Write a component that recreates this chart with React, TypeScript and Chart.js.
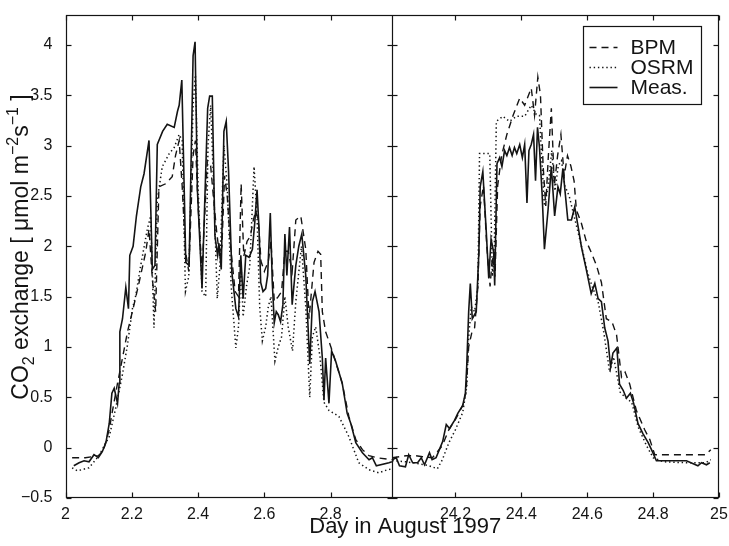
import { useEffect, useRef } from "react";
import { Chart, registerables } from "chart.js";

Chart.register(...registerables);

// ---------- Data ----------
const measLeftDays = [2.025, 2.041, 2.056, 2.071, 2.086, 2.099, 2.111, 2.122, 2.132, 2.14, 2.147, 2.157, 2.162, 2.164, 2.172, 2.182, 2.19, 2.194, 2.204, 2.214, 2.227, 2.237, 2.252, 2.262, 2.27, 2.277, 2.293, 2.307, 2.328, 2.338, 2.343, 2.351, 2.363, 2.373, 2.385, 2.391, 2.398, 2.412, 2.429, 2.435, 2.443, 2.451, 2.459, 2.463, 2.47, 2.478, 2.485, 2.492, 2.502, 2.514, 2.522, 2.529, 2.536, 2.544, 2.554, 2.564, 2.571, 2.578, 2.584, 2.589, 2.596, 2.604, 2.61, 2.618, 2.624, 2.63, 2.636, 2.642, 2.649, 2.656, 2.662, 2.668, 2.676, 2.684, 2.695, 2.704, 2.713, 2.725, 2.737, 2.745, 2.753, 2.765, 2.775, 2.78, 2.785, 2.795, 2.803, 2.815, 2.835, 2.85, 2.861, 2.876, 2.896, 2.916, 2.926, 2.938, 2.976, 2.985];
const measLeftVals = [-0.18, -0.15, -0.13, -0.14, -0.07, -0.1, -0.04, 0.05, 0.24, 0.54, 0.59, 0.44, 0.64, 1.15, 1.28, 1.59, 1.38, 1.91, 2.0, 2.3, 2.59, 2.72, 3.05, 1.77, 1.81, 3.01, 3.14, 3.21, 3.18, 3.34, 3.4, 3.65, 1.84, 1.81, 3.89, 4.03, 2.56, 1.58, 3.37, 3.49, 3.49, 2.1, 1.91, 2.03, 1.77, 3.14, 3.24, 2.75, 1.74, 1.38, 1.3, 1.91, 1.48, 1.91, 1.89, 1.97, 2.23, 2.56, 2.17, 1.64, 1.55, 1.58, 1.71, 2.33, 1.64, 1.24, 1.35, 1.32, 1.25, 1.42, 2.12, 1.71, 2.19, 1.42, 1.81, 2.0, 2.12, 1.71, 0.83, 1.45, 1.55, 1.35, 0.89, 0.47, 0.89, 0.44, 0.96, 0.86, 0.64, 0.34, 0.24, 0.05, -0.05, -0.12, -0.1, -0.18, -0.15, -0.14];

const bpmLeftDays = [2.02, 2.06, 2.08, 2.1, 2.115, 2.132, 2.142, 2.157, 2.172, 2.187, 2.204, 2.222, 2.242, 2.252, 2.262, 2.272, 2.282, 2.302, 2.322, 2.332, 2.343, 2.352, 2.362, 2.372, 2.385, 2.392, 2.4, 2.412, 2.428, 2.438, 2.446, 2.456, 2.465, 2.472, 2.48, 2.488, 2.498, 2.512, 2.522, 2.53, 2.538, 2.548, 2.558, 2.566, 2.574, 2.582, 2.59, 2.6, 2.612, 2.62, 2.63, 2.642, 2.652, 2.662, 2.672, 2.684, 2.695, 2.71, 2.725, 2.735, 2.75, 2.762, 2.77, 2.775, 2.785, 2.805, 2.835, 2.855, 2.876, 2.896, 2.916, 2.94, 2.985];
const bpmLeftVals = [-0.1, -0.1, -0.09, -0.08, -0.02, 0.18, 0.37, 0.64, 0.89, 1.15, 1.38, 1.64, 1.94, 2.17, 1.68, 1.35, 2.59, 2.62, 2.69, 2.9, 3.05, 2.6, 1.95, 1.75, 2.9, 3.05, 2.4, 1.75, 2.85, 2.8, 2.5, 2.15, 1.9, 2.0, 2.7, 2.5, 2.0, 1.55, 1.5, 2.62, 1.9, 2.05, 2.1, 2.25, 2.35, 2.25, 1.85, 1.75, 1.85, 2.05, 1.45, 1.5, 1.55, 1.95, 1.95, 1.75, 2.26, 2.3, 1.97, 1.28, 1.84, 1.95, 1.92, 1.35, 1.15, 0.96, 0.64, 0.31, 0.08, -0.02, -0.08, -0.1, -0.12];

const osrmLeftDays = [2.02, 2.036, 2.071, 2.101, 2.132, 2.152, 2.172, 2.187, 2.202, 2.212, 2.227, 2.247, 2.257, 2.267, 2.277, 2.292, 2.313, 2.328, 2.343, 2.352, 2.362, 2.372, 2.385, 2.392, 2.4, 2.412, 2.423, 2.43, 2.438, 2.446, 2.458, 2.466, 2.478, 2.488, 2.5, 2.514, 2.522, 2.53, 2.536, 2.546, 2.556, 2.569, 2.578, 2.586, 2.594, 2.604, 2.612, 2.62, 2.632, 2.642, 2.652, 2.662, 2.672, 2.685, 2.695, 2.712, 2.725, 2.737, 2.745, 2.755, 2.768, 2.78, 2.795, 2.825, 2.855, 2.885, 2.916, 2.946, 2.971, 2.985];
const osrmLeftVals = [-0.2, -0.23, -0.2, -0.08, 0.11, 0.4, 0.73, 1.02, 1.38, 1.51, 1.81, 2.17, 2.3, 1.19, 2.46, 2.79, 2.92, 2.98, 3.11, 3.05, 1.55, 1.7, 3.4, 3.7, 2.6, 1.55, 1.5, 3.0, 3.4, 2.7, 1.48, 1.8, 3.0, 2.6, 1.6, 0.99, 1.2, 1.8, 1.3, 1.6, 1.8, 2.79, 2.3, 1.4, 1.06, 1.2, 1.4, 1.5, 0.86, 1.0, 1.1, 1.5, 1.2, 0.96, 1.45, 2.0, 1.4, 0.5, 1.1, 1.2, 0.9, 0.45, 0.37, 0.31, 0.11, -0.15, -0.22, -0.25, -0.22, -0.21];

const measRightDays = [24.008, 24.02, 24.03, 24.048, 24.058, 24.07, 24.085, 24.096, 24.106, 24.121, 24.129, 24.141, 24.151, 24.161, 24.172, 24.182, 24.197, 24.207, 24.222, 24.23, 24.234, 24.24, 24.245, 24.251, 24.263, 24.271, 24.275, 24.283, 24.293, 24.301, 24.308, 24.316, 24.319, 24.326, 24.334, 24.341, 24.349, 24.356, 24.364, 24.372, 24.379, 24.386, 24.395, 24.403, 24.41, 24.417, 24.423, 24.43, 24.437, 24.443, 24.449, 24.455, 24.463, 24.47, 24.481, 24.491, 24.501, 24.511, 24.518, 24.526, 24.541, 24.552, 24.562, 24.572, 24.582, 24.597, 24.612, 24.623, 24.633, 24.643, 24.653, 24.663, 24.671, 24.678, 24.69, 24.698, 24.709, 24.719, 24.731, 24.741, 24.754, 24.769, 24.785, 24.795, 24.81, 24.86, 24.901, 24.936, 24.947, 24.962, 24.972];
const measRightVals = [-0.12, -0.1, -0.18, -0.19, -0.07, -0.15, -0.15, -0.1, -0.17, -0.05, -0.12, -0.1, -0.02, 0.06, 0.23, 0.19, 0.27, 0.34, 0.42, 0.54, 0.8, 1.35, 1.63, 1.28, 1.35, 1.94, 2.59, 2.74, 2.17, 1.68, 2.07, 1.94, 1.61, 2.82, 2.88, 2.79, 2.95, 2.9, 2.98, 2.9, 2.98, 2.92, 3.01, 2.88, 3.01, 2.43, 2.95, 3.01, 3.11, 2.65, 3.18, 2.98, 2.52, 1.97, 2.36, 2.79, 2.3, 2.59, 2.52, 2.77, 2.26, 2.26, 2.39, 2.2, 2.0, 1.77, 1.53, 1.63, 1.48, 1.45, 1.19, 1.06, 0.8, 0.94, 0.99, 0.63, 0.57, 0.49, 0.54, 0.44, 0.24, 0.14, 0.05, -0.02, -0.13, -0.13, -0.13, -0.18, -0.15, -0.17, -0.15];

const bpmRightDays = [24.008, 24.05, 24.08, 24.1, 24.13, 24.16, 24.18, 24.2, 24.222, 24.232, 24.24, 24.25, 24.258, 24.268, 24.275, 24.285, 24.295, 24.305, 24.312, 24.32, 24.328, 24.34, 24.356, 24.375, 24.395, 24.41, 24.43, 24.44, 24.45, 24.458, 24.466, 24.474, 24.482, 24.491, 24.5, 24.51, 24.52, 24.53, 24.54, 24.55, 24.56, 24.567, 24.582, 24.597, 24.612, 24.628, 24.643, 24.658, 24.675, 24.689, 24.704, 24.715, 24.729, 24.749, 24.774, 24.79, 24.805, 24.9, 24.96, 24.975];
const bpmRightVals = [-0.1, -0.08, -0.08, -0.09, -0.1, 0.02, 0.18, 0.28, 0.42, 0.55, 1.0, 1.15, 1.19, 1.6, 2.4, 2.6, 2.0, 1.6, 1.9, 1.7, 2.6, 2.9, 3.11, 3.3, 3.47, 3.4, 3.57, 3.3, 3.68, 3.5, 2.8, 2.4, 2.9, 3.37, 2.6, 2.9, 3.11, 2.7, 2.9, 2.8, 2.65, 2.36, 2.23, 2.05, 1.94, 1.81, 1.64, 1.28, 1.25, 1.12, 0.7, 0.75, 0.63, 0.37, 0.18, 0.08, -0.07, -0.07, -0.07, -0.02];

const osrmRightDays = [24.008, 24.05, 24.09, 24.12, 24.145, 24.16, 24.18, 24.2, 24.222, 24.234, 24.24, 24.248, 24.258, 24.268, 24.273, 24.29, 24.304, 24.312, 24.318, 24.324, 24.344, 24.364, 24.385, 24.41, 24.43, 24.445, 24.455, 24.463, 24.47, 24.482, 24.492, 24.502, 24.512, 24.522, 24.532, 24.545, 24.56, 24.575, 24.59, 24.6, 24.615, 24.633, 24.65, 24.668, 24.68, 24.7, 24.715, 24.735, 24.755, 24.78, 24.8, 24.83, 24.9, 24.96, 24.975];
const osrmRightVals = [-0.13, -0.14, -0.16, -0.18, -0.21, -0.12, 0.05, 0.18, 0.35, 0.6, 1.1, 1.4, 1.35, 1.6, 2.92, 2.92, 2.92, 1.7, 2.0, 3.24, 3.29, 3.24, 3.29, 3.29, 3.4, 3.31, 3.3, 2.8, 2.4, 2.6, 2.95, 2.55, 2.8, 2.85, 2.6, 2.5, 2.3, 2.1, 1.9, 1.75, 1.6, 1.45, 1.15, 0.75, 0.9, 0.55, 0.5, 0.45, 0.2, 0.02, -0.1, -0.14, -0.15, -0.15, -0.12];

const seriesNames = ["BPM", "OSRM", "Meas."];
const leftTicks = [2, 2.2, 2.4, 2.6, 2.8];
const leftTickLabels = ["2", "2.2", "2.4", "2.6", "2.8"];
const rightTicks = [24.2, 24.4, 24.6, 24.8, 25];
const rightTickLabels = ["24.2", "24.4", "24.6", "24.8", "25"];
const yTicks = [-0.5, 0, 0.5, 1, 1.5, 2, 2.5, 3, 3.5, 4];
const yTickLabels = ["\u22120.5", "0", "0.5", "1", "1.5", "2", "2.5", "3", "3.5", "4"];
const xTitle = "Day in August 1997";
const yTitleParts = [
  { t: "CO", k: "n" },
  { t: "2", k: "sub" },
  { t: " exchange [ \u03bcmol m", k: "n" },
  { t: "\u22122", k: "sup" },
  { t: "s", k: "n" },
  { t: "\u22121", k: "sup" },
  { t: " ]", k: "n" },
];

const FONT = '"Liberation Sans", Arial, Helvetica, sans-serif';
const INK = "#141414";
const DASH = [7, 5];
const DOT = [1.4, 2.8];

const styles: Record<string, { dash: number[]; width: number }> = {
  BPM: { dash: DASH, width: 1.4 },
  OSRM: { dash: DOT, width: 1.5 },
  "Meas.": { dash: [], width: 1.6 },
};

function mk(name: string, days: number[], vals: number[], axis: string) {
  return {
    label: name,
    data: days.map((d, i) => ({ x: d, y: vals[i] })),
    xAxisID: axis,
    yAxisID: "y",
    showLine: true,
    pointRadius: 0,
    pointHoverRadius: 0,
    borderColor: INK,
    backgroundColor: INK,
    borderWidth: styles[name].width,
    borderDash: styles[name].dash,
    fill: false,
    tension: 0,
  };
}

const framePlugin = {
  id: "frameAndText",
  afterDraw(chart: any) {
    const { ctx, chartArea: a, scales } = chart;
    const xL = scales.xL;
    const xR = scales.xR;
    const y = scales.y;
    const TL = 5;
    ctx.save();
    ctx.strokeStyle = INK;
    ctx.lineWidth = 1.2;
    ctx.setLineDash([]);
    const L = Math.round(a.left) + 0.5;
    const R = Math.round(a.right) - 0.5;
    const T = Math.round(a.top) + 0.5;
    const B = Math.round(a.bottom) - 0.5;
    const D = Math.round(xL.right) + 0.5;
    const line = (x1: number, y1: number, x2: number, y2: number) => {
      ctx.beginPath();
      ctx.moveTo(x1, y1);
      ctx.lineTo(x2, y2);
      ctx.stroke();
    };
    ctx.strokeRect(L, T, R - L, B - T);
    line(D, T, D, B);
    for (const v of yTicks) {
      const py = Math.round(y.getPixelForValue(v)) + 0.5;
      line(L, py, L + TL, py);
      line(D - TL, py, D + TL, py);
      line(R - TL, py, R, py);
    }
    for (const v of leftTicks) {
      const px = Math.round(xL.getPixelForValue(v)) + 0.5;
      line(px, T, px, T + TL);
      line(px, B - TL, px, B);
    }
    for (const v of rightTicks) {
      const px = Math.round(xR.getPixelForValue(v)) + 0.5;
      line(px, T, px, T + TL);
      line(px, B - TL, px, B);
    }

    // legend
    const bx = Math.round(a.right - 136) + 0.5;
    const by = Math.round(a.top + 11) + 0.5;
    const bw = 118;
    const bh = 78;
    ctx.fillStyle = "#fff";
    ctx.fillRect(bx, by, bw, bh);
    ctx.strokeRect(bx, by, bw, bh);
    ctx.font = `21px ${FONT}`;
    ctx.textBaseline = "middle";
    ctx.textAlign = "left";
    seriesNames.forEach((name, i) => {
      const cy = by + 21 + i * 20;
      ctx.save();
      ctx.lineWidth = styles[name].width;
      ctx.setLineDash(styles[name].dash);
      line(bx + 6, cy, bx + 34, cy);
      ctx.restore();
      ctx.fillStyle = INK;
      ctx.fillText(name, bx + 47, cy + 1);
    });

    // x title
    ctx.fillStyle = INK;
    ctx.font = `22px ${FONT}`;
    ctx.textAlign = "center";
    ctx.textBaseline = "middle";
    ctx.fillText(xTitle, (a.left + a.right) / 2 + 13, 527);

    // y title (rotated, with sub/superscripts)
    const big = `23px ${FONT}`;
    const small = `16px ${FONT}`;
    let total = 0;
    const widths = yTitleParts.map((p) => {
      ctx.font = p.k === "n" ? big : small;
      const w = ctx.measureText(p.t).width;
      total += w;
      return w;
    });
    ctx.save();
    ctx.translate(28, 247);
    ctx.rotate(-Math.PI / 2);
    ctx.textAlign = "left";
    ctx.textBaseline = "alphabetic";
    let cx = -total / 2;
    yTitleParts.forEach((p, i) => {
      ctx.font = p.k === "n" ? big : small;
      const off = p.k === "sub" ? 6 : p.k === "sup" ? -10 : 0;
      ctx.fillText(p.t, cx, off);
      cx += widths[i];
    });
    ctx.restore();
    ctx.restore();
  },
};

export default function App() {
  const ref = useRef<HTMLCanvasElement | null>(null);
  useEffect(() => {
    if (!ref.current) return;
    const tickFont = { family: FONT, size: 16 };
    const chart = new Chart(ref.current, {
      type: "scatter",
      data: {
        datasets: [
          mk("BPM", bpmLeftDays, bpmLeftVals, "xL"),
          mk("OSRM", osrmLeftDays, osrmLeftVals, "xL"),
          mk("Meas.", measLeftDays, measLeftVals, "xL"),
          mk("BPM", bpmRightDays, bpmRightVals, "xR"),
          mk("OSRM", osrmRightDays, osrmRightVals, "xR"),
          mk("Meas.", measRightDays, measRightVals, "xR"),
        ] as any,
      },
      options: {
        animation: false,
        responsive: false,
        events: [],
        layout: { padding: { top: 9, right: 10, left: 0, bottom: 0 } },
        plugins: { legend: { display: false }, tooltip: { enabled: false }, title: { display: false } },
        scales: {
          xL: {
            type: "linear",
            position: "bottom",
            stack: "x",
            stackWeight: 1,
            min: 2,
            max: 2.986,
            grid: { display: false },
            border: { display: false },
            ticks: {
              font: tickFont,
              color: INK,
              padding: -1,
              maxRotation: 0,
              autoSkip: false,
              callback: (v: any) => leftTickLabels[leftTicks.indexOf(Number(v))] ?? "",
            },
            afterBuildTicks: (s: any) => {
              s.ticks = leftTicks.map((v) => ({ value: v }));
            },
            afterFit: (s: any) => {
              s.height = 48;
            },
          },
          xR: {
            type: "linear",
            position: "bottom",
            stack: "x",
            stackWeight: 1,
            min: 24.008,
            max: 25,
            grid: { display: false },
            border: { display: false },
            ticks: {
              font: tickFont,
              color: INK,
              padding: -1,
              maxRotation: 0,
              autoSkip: false,
              callback: (v: any) => rightTickLabels[rightTicks.indexOf(Number(v))] ?? "",
            },
            afterBuildTicks: (s: any) => {
              s.ticks = rightTicks.map((v) => ({ value: v }));
            },
            afterFit: (s: any) => {
              s.height = 48;
            },
          },
          y: {
            type: "linear",
            position: "left",
            min: -0.5,
            max: 4.3,
            grid: { display: false },
            border: { display: false },
            ticks: {
              font: tickFont,
              color: INK,
              padding: 5,
              autoSkip: false,
              callback: (v: any) => yTickLabels[yTicks.indexOf(Number(v))] ?? "",
            },
            afterBuildTicks: (s: any) => {
              s.ticks = yTicks.map((v) => ({ value: v }));
            },
            afterFit: (s: any) => {
              s.width = 65.5;
            },
          },
        },
      } as any,
      plugins: [framePlugin],
    });
    return () => chart.destroy();
  }, []);
  return (
    <div style={{ position: "absolute", left: 0, top: 0, width: 729, height: 546, background: "#fff" }}>
      <canvas ref={ref} width={729} height={546} style={{ display: "block" }} />
    </div>
  );
}
